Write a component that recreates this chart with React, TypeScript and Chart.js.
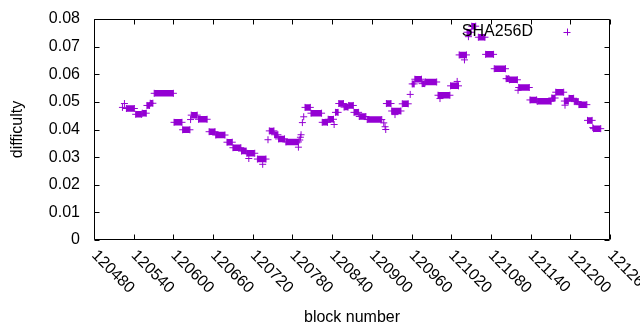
import React, { useEffect, useRef } from 'react';
import { Chart, registerables } from 'chart.js';

Chart.register(...registerables);

// x axis (block number) range and tick step
const xMin = 120480;
const xMax = 121260;
const xStep = 60;
// y axis (difficulty) range and tick step
const yMin = 0;
const yMax = 0.08;
const yStep = 0.01;

const seriesLabel = 'SHA256D';
const xTitle = 'block number';
const yTitle = 'difficulty';

// runs of blocks sharing (about) the same difficulty; start == end is a single block
const runStart = [
  120523, 120526, 120529, 120543, 120553, 120560, 120565, 120571, 120601, 120614,
  120626, 120627, 120638, 120654, 120664, 120681, 120690, 120703, 120711, 120714,
  120727, 120735, 120743, 120745, 120753, 120759, 120770, 120789, 120791, 120792,
  120793, 120795, 120797, 120799, 120808, 120825, 120834, 120843, 120845, 120850,
  120858, 120865, 120873, 120881, 120893, 120918, 120920, 120921, 120922, 120930,
  120935, 120946, 120958, 120961, 120965, 120976, 120981, 121000, 121003, 121019,
  121029, 121032, 121040, 121044, 121046, 121051, 121061, 121072, 121085, 121103,
  121108, 121121, 121122, 121139, 121150, 121172, 121178, 121191, 121192, 121198,
  121206, 121213, 121226, 121234, 121235,
];
const runEnd = [
  120523, 120526, 120541, 120552, 120559, 120564, 120569, 120600, 120613, 120625,
  120626, 120636, 120651, 120663, 120678, 120689, 120702, 120710, 120723, 120714,
  120740, 120735, 120743, 120752, 120758, 120768, 120789, 120789, 120791, 120792,
  120793, 120795, 120797, 120807, 120824, 120833, 120842, 120843, 120849, 120857,
  120864, 120872, 120880, 120891, 120915, 120918, 120920, 120921, 120929, 120944,
  120935, 120955, 120958, 120964, 120975, 120980, 120998, 121018, 121003, 121031,
  121029, 121043, 121040, 121050, 121046, 121057, 121071, 121084, 121102, 121107,
  121120, 121121, 121138, 121149, 121171, 121177, 121190, 121197, 121192, 121205,
  121212, 121225, 121233, 121234, 121246,
];
const runValue = [
  0.0480, 0.0494, 0.0476, 0.0455, 0.0459, 0.0487, 0.0495, 0.0531, 0.0426, 0.0399,
  0.0436, 0.0452, 0.0437, 0.0392, 0.0380, 0.0354, 0.0334, 0.0322, 0.0314, 0.0295,
  0.0293, 0.0274, 0.0363, 0.0395, 0.0381, 0.0366, 0.0355, 0.0336, 0.0362, 0.0372,
  0.0381, 0.0425, 0.0446, 0.0480, 0.0459, 0.0426, 0.0437, 0.0418, 0.0462, 0.0494,
  0.0481, 0.0487, 0.0462, 0.0447, 0.0436, 0.0424, 0.0410, 0.0400, 0.0494, 0.0467,
  0.0454, 0.0493, 0.0527, 0.0565, 0.0582, 0.0566, 0.0572, 0.0524, 0.0512, 0.0558,
  0.0574, 0.0670, 0.0652, 0.0752, 0.0736, 0.0774, 0.0734, 0.0672, 0.0620, 0.0584,
  0.0580, 0.0542, 0.0552, 0.0507, 0.0502, 0.0514, 0.0535, 0.0503, 0.0488, 0.0513,
  0.0501, 0.0490, 0.0433, 0.0407, 0.0403,
];

const PURPLE = '#9400d3';
const FONT = '"Liberation Sans", Arial, sans-serif';
const FONT_SIZE = 16;

function buildPoints() {
  const pts: { x: number; y: number | null }[] = [];
  for (let i = 0; i < runStart.length; i++) {
    pts.push({ x: runStart[i], y: runValue[i] });
    if (runEnd[i] !== runStart[i]) pts.push({ x: runEnd[i], y: runValue[i] });
    pts.push({ x: runEnd[i], y: null });
  }
  return pts;
}

const framePlugin = {
  id: 'gnuFrame',
  afterDatasetsDraw(chart: any) {
    const { ctx, chartArea: a, scales } = chart;
    const xs = scales.x;
    const ys = scales.y;
    const L = Math.round(a.left) + 0.5;
    const R = Math.round(a.right) - 0.5;
    const T = Math.round(a.top) + 0.5;
    const B = Math.round(a.bottom) - 0.5;
    const tl = 5;
    ctx.save();
    ctx.strokeStyle = '#000';
    ctx.lineWidth = 1;
    ctx.beginPath();
    ctx.rect(L, T, R - L, B - T);
    for (const t of xs.ticks) {
      const px = Math.round(xs.getPixelForValue(t.value)) + 0.5;
      ctx.moveTo(px, B);
      ctx.lineTo(px, B - tl);
      ctx.moveTo(px, T);
      ctx.lineTo(px, T + tl);
    }
    for (const t of ys.ticks) {
      const py = Math.round(ys.getPixelForValue(t.value)) + 0.5;
      ctx.moveTo(L, py);
      ctx.lineTo(L + tl, py);
      ctx.moveTo(R, py);
      ctx.lineTo(R - tl, py);
    }
    ctx.stroke();

    // rotated x tick labels (gnuplot style, text running down-right from tick)
    ctx.fillStyle = '#000';
    ctx.font = `${FONT_SIZE}px ${FONT}`;
    ctx.textAlign = 'left';
    ctx.textBaseline = 'middle';
    for (const t of xs.ticks) {
      const px = xs.getPixelForValue(t.value);
      ctx.save();
      ctx.translate(px + 0, a.bottom + 13);
      ctx.rotate(Math.PI / 4);
      ctx.fillText(String(t.value), 0, 0);
      ctx.restore();
    }

    // legend inside the plot, top right
    const ly = a.top + 13;
    ctx.textAlign = 'right';
    ctx.fillText(seriesLabel, a.left + 439, ly);
    const mx = a.left + 473;
    ctx.strokeStyle = PURPLE;
    ctx.beginPath();
    ctx.moveTo(mx - 3.5, ly + 0.5);
    ctx.lineTo(mx + 3.5, ly + 0.5);
    ctx.moveTo(mx + 0.5, ly - 3.5);
    ctx.lineTo(mx + 0.5, ly + 3.5);
    ctx.stroke();
    ctx.restore();
  },
};

export default function App() {
  const ref = useRef<HTMLCanvasElement | null>(null);
  useEffect(() => {
    if (!ref.current) return;
    const chart = new Chart(ref.current, {
      type: 'scatter',
      data: {
        datasets: [
          {
            label: seriesLabel,
            data: buildPoints() as any,
            showLine: true,
            spanGaps: false,
            borderColor: PURPLE,
            borderWidth: 6.5,
            borderCapStyle: 'butt',
            pointStyle: 'cross',
            pointRadius: 3.5,
            pointBorderWidth: 1,
            pointBorderColor: PURPLE,
            pointBackgroundColor: PURPLE,
          } as any,
        ],
      },
      options: {
        responsive: false,
        animation: false,
        events: [],
        layout: { padding: { top: 19, right: 30, left: 0, bottom: 0 } },
        plugins: {
          legend: { display: false },
          tooltip: { enabled: false },
        },
        scales: {
          x: {
            type: 'linear',
            min: xMin,
            max: xMax,
            grid: { display: false, drawTicks: false },
            border: { display: false },
            ticks: { stepSize: xStep, display: false },
            title: {
              display: true,
              text: xTitle,
              color: '#000',
              font: { family: FONT, size: FONT_SIZE },
              padding: { top: 0, bottom: 2.5 },
            },
            afterFit: (s: any) => {
              s.height = 90;
            },
          },
          y: {
            type: 'linear',
            min: yMin,
            max: yMax,
            grid: { display: false, drawTicks: false },
            border: { display: false },
            ticks: {
              stepSize: yStep,
              padding: 14,
              color: '#000',
              font: { family: FONT, size: FONT_SIZE, lineHeight: 0.5 },
              callback: (v: any) => (Number(v) === 0 ? '0' : Number(v).toFixed(2)),
            },
            title: {
              display: true,
              text: yTitle,
              color: '#000',
              font: { family: FONT, size: FONT_SIZE },
              padding: { top: 7.5, bottom: 0 },
            },
            afterFit: (s: any) => {
              s.width = 94;
            },
          },
        },
      },
      plugins: [framePlugin],
    });
    return () => chart.destroy();
  }, []);
  return (
    <div style={{ position: 'absolute', left: 0, top: 0, width: 640, height: 330, background: '#fff' }}>
      <canvas ref={ref} width={640} height={330} style={{ display: 'block' }} />
    </div>
  );
}
